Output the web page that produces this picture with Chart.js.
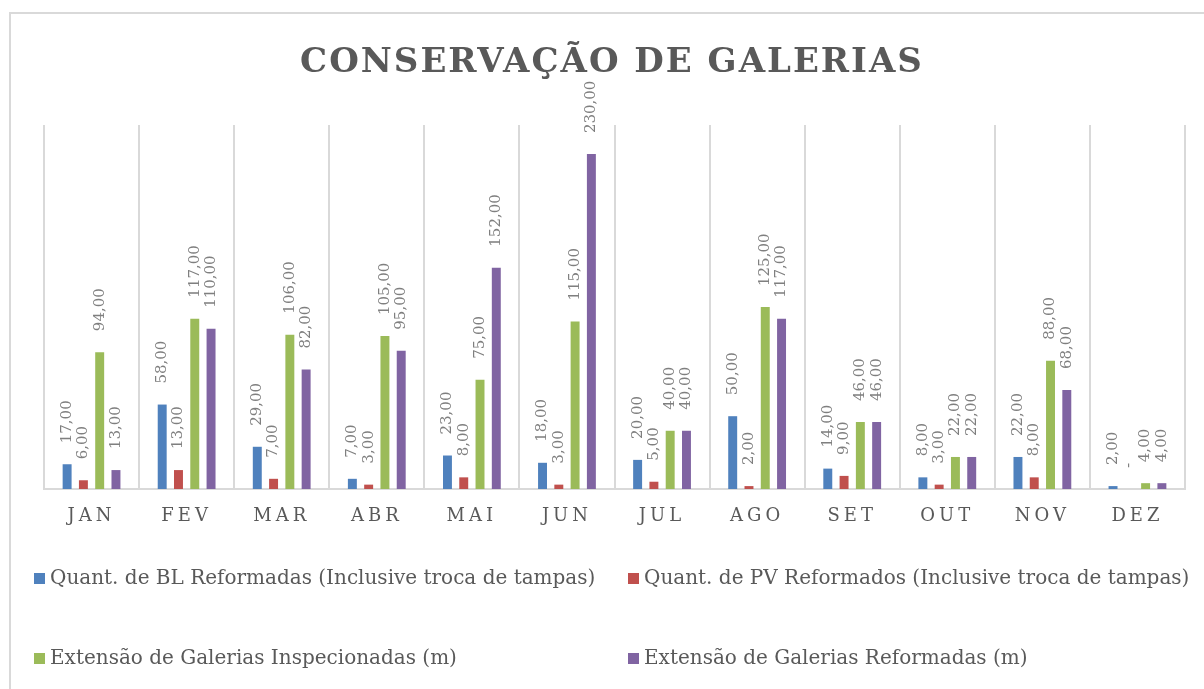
<!DOCTYPE html>
<html>
<head>
<meta charset="utf-8">
<title>Conservação de Galerias</title>
<script src="https://cdn.jsdelivr.net/npm/chart.js@4.4.1/dist/chart.umd.min.js"></script>
<style>
    html, body { margin: 0; padding: 0; background: #fff; }
    #wrap { position: relative; width: 1204px; height: 689px; }
</style>
</head>
<body>
<div id="wrap"><canvas id="chart" width="1204" height="689"></canvas></div>
<script>
// Data
const months = ['JAN', 'FEV', 'MAR', 'ABR', 'MAI', 'JUN', 'JUL', 'AGO', 'SET', 'OUT', 'NOV', 'DEZ'];
const blReformadas = [17, 58, 29, 7, 23, 18, 20, 50, 14, 8, 22, 2];
const pvReformados = [6, 13, 7, 3, 8, 3, 5, 2, 9, 3, 8, 0];
const galeriasInspecionadas = [94, 117, 106, 105, 75, 115, 40, 125, 46, 22, 88, 4];
const galeriasReformadas = [13, 110, 82, 95, 152, 230, 40, 117, 46, 22, 68, 4];
const seriesNames = [
    'Quant. de BL Reformadas (Inclusive troca de tampas)',
    'Quant. de PV Reformados (Inclusive troca de tampas)',
    'Extensão de Galerias Inspecionadas (m)',
    'Extensão de Galerias Reformadas (m)'
];
const chartTitle = 'CONSERVAÇÃO DE GALERIAS';
const yMax = 250;

const seriesColors = ['#4f81bd', '#c0504d', '#9bbb59', '#8064a2'];
const FONT = "'DejaVu Serif', 'Liberation Serif', serif";
const TEXT = '#595959';

function fmt(v) {
    if (v === 0) return '-';
    return v.toFixed(2).replace('.', ',');
}

// Frame, letter spacing for axis labels, title and legend
const decorPlugin = {
    id: 'decor',
    beforeDraw(chart) {
        const ctx = chart.ctx;
        ctx.save();
        ctx.fillStyle = '#fff';
        ctx.fillRect(0, 0, chart.width, chart.height);
        ctx.strokeStyle = '#d9d9d9';
        ctx.lineWidth = 2;
        ctx.strokeRect(10, 13, chart.width + 20, chart.height + 20);
        ctx.restore();
        ctx.letterSpacing = '4px';
    },
    beforeDatasetsDraw(chart) {
        chart.ctx.letterSpacing = '0px';
    },
    afterDraw(chart) {
        const ctx = chart.ctx;
        ctx.save();
        // Title
        ctx.letterSpacing = '2px';
        ctx.font = `bold 34px ${FONT}`;
        ctx.fillStyle = TEXT;
        ctx.textAlign = 'center';
        ctx.textBaseline = 'alphabetic';
        ctx.fillText(chartTitle, 612, 72);

        // Legend (2 x 2)
        ctx.letterSpacing = '0px';
        ctx.font = `20px ${FONT}`;
        ctx.textAlign = 'left';
        ctx.textBaseline = 'middle';
        const spots = [[34, 578], [628, 578], [34, 658], [628, 658]];
        chart.data.datasets.forEach((ds, i) => {
            const [x, y] = spots[i];
            ctx.fillStyle = ds.backgroundColor;
            ctx.fillRect(x, y - 5, 11, 11);
            ctx.fillStyle = TEXT;
            ctx.fillText(ds.label, x + 16, y + 1);
        });
        ctx.restore();
    }
};

// Rotated value labels above each bar
const valueLabels = {
    id: 'valueLabels',
    afterDatasetsDraw(chart) {
        const ctx = chart.ctx;
        ctx.save();
        ctx.font = `15px ${FONT}`;
        ctx.fillStyle = '#7f7f7f';
        ctx.textAlign = 'left';
        ctx.textBaseline = 'middle';
        chart.data.datasets.forEach((ds, i) => {
            chart.getDatasetMeta(i).data.forEach((bar, j) => {
                ctx.save();
                ctx.translate(bar.x, bar.y - 21);
                ctx.rotate(-Math.PI / 2);
                ctx.fillText(fmt(ds.data[j]), 0, 0);
                ctx.restore();
            });
        });
        ctx.restore();
    }
};

const allSeries = [blReformadas, pvReformados, galeriasInspecionadas, galeriasReformadas];

new Chart(document.getElementById('chart'), {
    type: 'bar',
    data: {
        labels: months,
        datasets: allSeries.map((d, i) => ({
            label: seriesNames[i],
            data: d,
            backgroundColor: seriesColors[i],
            borderWidth: 0,
            categoryPercentage: 0.685,
            barPercentage: 0.55
        }))
    },
    options: {
        responsive: false,
        devicePixelRatio: 1,
        animation: false,
        layout: { padding: { left: 44, right: 19, top: 125, bottom: 0 } },
        plugins: {
            legend: { display: false },
            title: { display: false },
            tooltip: { enabled: false }
        },
        scales: {
            x: {
                grid: { color: '#d9d9d9', lineWidth: 2, drawTicks: false, offset: true },
                border: { color: '#d9d9d9', width: 2 },
                ticks: { color: TEXT, font: { family: FONT, size: 18 }, padding: 17 },
                afterFit(scale) { scale.height = 200; }
            },
            y: { display: false, min: 0, max: yMax }
        }
    },
    plugins: [decorPlugin, valueLabels]
});
</script>
</body>
</html>
